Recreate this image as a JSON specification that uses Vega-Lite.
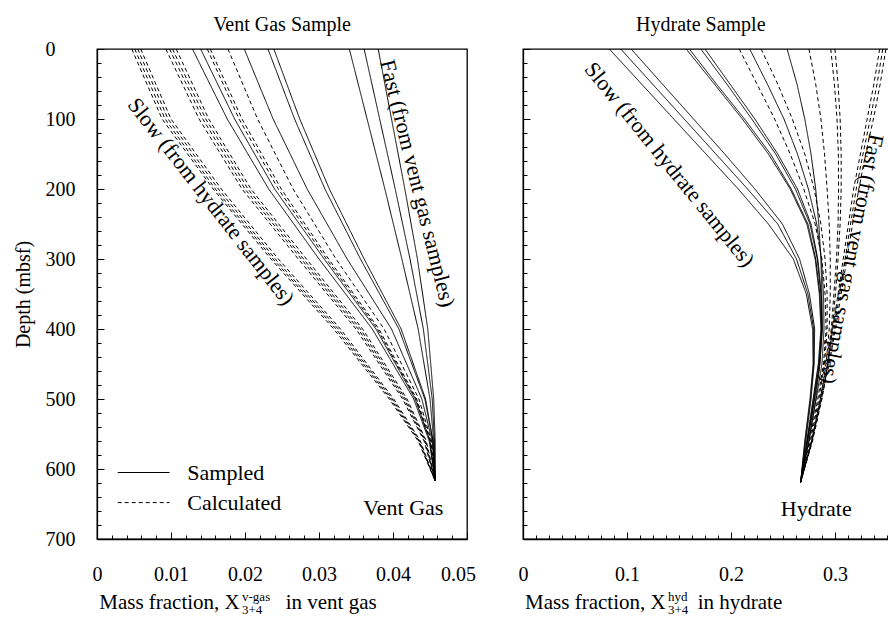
{
"$schema": "https://vega.github.io/schema/vega-lite/v6.json",
"padding": {"left": 12, "top": 14, "right": 0, "bottom": 0},
"background": "white",
"spacing": 56,
"bounds": "flush",
"config": {
  "font": "Liberation Serif",
  "view": {"stroke": "black", "strokeWidth": 1.3},
  "axis": {"domainColor": "black", "domainWidth": 1.3, "tickColor": "black", "tickWidth": 1, "labelColor": "black", "titleColor": "black", "grid": false, "labelFontSize": 20, "titleFontSize": 20, "titleFontWeight": "normal", "labelFlush": false, "labelOverlap": false}
},
"datasets": {
"vent": [
{"id":"A1","t":"Calculated","d":0,"x":0.0047},{"id":"A1","t":"Calculated","d":100,"x":0.0088},{"id":"A1","t":"Calculated","d":200,"x":0.0157},{"id":"A1","t":"Calculated","d":300,"x":0.0235},{"id":"A1","t":"Calculated","d":400,"x":0.0320},{"id":"A1","t":"Calculated","d":500,"x":0.0395},{"id":"A1","t":"Calculated","d":560,"x":0.0434},{"id":"A1","t":"Calculated","d":617,"x":0.0457},
{"id":"A2","t":"Calculated","d":0,"x":0.0051},{"id":"A2","t":"Calculated","d":100,"x":0.0092},{"id":"A2","t":"Calculated","d":200,"x":0.0160},{"id":"A2","t":"Calculated","d":300,"x":0.0238},{"id":"A2","t":"Calculated","d":400,"x":0.0323},{"id":"A2","t":"Calculated","d":500,"x":0.0397},{"id":"A2","t":"Calculated","d":560,"x":0.0435},{"id":"A2","t":"Calculated","d":617,"x":0.0457},
{"id":"A3","t":"Calculated","d":0,"x":0.0055},{"id":"A3","t":"Calculated","d":100,"x":0.0096},{"id":"A3","t":"Calculated","d":200,"x":0.0164},{"id":"A3","t":"Calculated","d":300,"x":0.0241},{"id":"A3","t":"Calculated","d":400,"x":0.0326},{"id":"A3","t":"Calculated","d":500,"x":0.0399},{"id":"A3","t":"Calculated","d":560,"x":0.0436},{"id":"A3","t":"Calculated","d":617,"x":0.0457},
{"id":"A4","t":"Calculated","d":0,"x":0.0059},{"id":"A4","t":"Calculated","d":100,"x":0.0100},{"id":"A4","t":"Calculated","d":200,"x":0.0168},{"id":"A4","t":"Calculated","d":300,"x":0.0245},{"id":"A4","t":"Calculated","d":400,"x":0.0329},{"id":"A4","t":"Calculated","d":500,"x":0.0401},{"id":"A4","t":"Calculated","d":560,"x":0.0437},{"id":"A4","t":"Calculated","d":617,"x":0.0457},
{"id":"B1","t":"Calculated","d":0,"x":0.0093},{"id":"B1","t":"Calculated","d":100,"x":0.0138},{"id":"B1","t":"Calculated","d":200,"x":0.0196},{"id":"B1","t":"Calculated","d":300,"x":0.0272},{"id":"B1","t":"Calculated","d":400,"x":0.0350},{"id":"B1","t":"Calculated","d":500,"x":0.0413},{"id":"B1","t":"Calculated","d":560,"x":0.0442},{"id":"B1","t":"Calculated","d":617,"x":0.0457},
{"id":"B2","t":"Calculated","d":0,"x":0.0098},{"id":"B2","t":"Calculated","d":100,"x":0.0143},{"id":"B2","t":"Calculated","d":200,"x":0.0200},{"id":"B2","t":"Calculated","d":300,"x":0.0276},{"id":"B2","t":"Calculated","d":400,"x":0.0353},{"id":"B2","t":"Calculated","d":500,"x":0.0415},{"id":"B2","t":"Calculated","d":560,"x":0.0443},{"id":"B2","t":"Calculated","d":617,"x":0.0457},
{"id":"B3","t":"Calculated","d":0,"x":0.0102},{"id":"B3","t":"Calculated","d":100,"x":0.0147},{"id":"B3","t":"Calculated","d":200,"x":0.0204},{"id":"B3","t":"Calculated","d":300,"x":0.0279},{"id":"B3","t":"Calculated","d":400,"x":0.0356},{"id":"B3","t":"Calculated","d":500,"x":0.0417},{"id":"B3","t":"Calculated","d":560,"x":0.0444},{"id":"B3","t":"Calculated","d":617,"x":0.0457},
{"id":"B4","t":"Calculated","d":0,"x":0.0107},{"id":"B4","t":"Calculated","d":100,"x":0.0151},{"id":"B4","t":"Calculated","d":200,"x":0.0208},{"id":"B4","t":"Calculated","d":300,"x":0.0283},{"id":"B4","t":"Calculated","d":400,"x":0.0359},{"id":"B4","t":"Calculated","d":500,"x":0.0419},{"id":"B4","t":"Calculated","d":560,"x":0.0445},{"id":"B4","t":"Calculated","d":617,"x":0.0457},
{"id":"C1","t":"Sampled","d":0,"x":0.0129},{"id":"C1","t":"Sampled","d":100,"x":0.0176},{"id":"C1","t":"Sampled","d":200,"x":0.0232},{"id":"C1","t":"Sampled","d":300,"x":0.0300},{"id":"C1","t":"Sampled","d":400,"x":0.0372},{"id":"C1","t":"Sampled","d":500,"x":0.0428},{"id":"C1","t":"Sampled","d":560,"x":0.0449},{"id":"C1","t":"Sampled","d":617,"x":0.0457},
{"id":"C2","t":"Sampled","d":0,"x":0.0140},{"id":"C2","t":"Sampled","d":100,"x":0.0186},{"id":"C2","t":"Sampled","d":200,"x":0.0240},{"id":"C2","t":"Sampled","d":300,"x":0.0307},{"id":"C2","t":"Sampled","d":400,"x":0.0377},{"id":"C2","t":"Sampled","d":500,"x":0.0430},{"id":"C2","t":"Sampled","d":560,"x":0.0450},{"id":"C2","t":"Sampled","d":617,"x":0.0457},
{"id":"C3","t":"Calculated","d":0,"x":0.0149},{"id":"C3","t":"Calculated","d":100,"x":0.0192},{"id":"C3","t":"Calculated","d":200,"x":0.0245},{"id":"C3","t":"Calculated","d":300,"x":0.0310},{"id":"C3","t":"Calculated","d":400,"x":0.0379},{"id":"C3","t":"Calculated","d":500,"x":0.0431},{"id":"C3","t":"Calculated","d":560,"x":0.0450},{"id":"C3","t":"Calculated","d":617,"x":0.0457},
{"id":"C4","t":"Calculated","d":0,"x":0.0153},{"id":"C4","t":"Calculated","d":100,"x":0.0196},{"id":"C4","t":"Calculated","d":200,"x":0.0249},{"id":"C4","t":"Calculated","d":300,"x":0.0313},{"id":"C4","t":"Calculated","d":400,"x":0.0381},{"id":"C4","t":"Calculated","d":500,"x":0.0432},{"id":"C4","t":"Calculated","d":560,"x":0.0451},{"id":"C4","t":"Calculated","d":617,"x":0.0457},
{"id":"D1","t":"Calculated","d":0,"x":0.0177},{"id":"D1","t":"Calculated","d":100,"x":0.0217},{"id":"D1","t":"Calculated","d":200,"x":0.0265},{"id":"D1","t":"Calculated","d":300,"x":0.0323},{"id":"D1","t":"Calculated","d":400,"x":0.0388},{"id":"D1","t":"Calculated","d":500,"x":0.0435},{"id":"D1","t":"Calculated","d":560,"x":0.0452},{"id":"D1","t":"Calculated","d":617,"x":0.0457},
{"id":"E1","t":"Sampled","d":0,"x":0.0199},{"id":"E1","t":"Sampled","d":100,"x":0.0238},{"id":"E1","t":"Sampled","d":200,"x":0.0284},{"id":"E1","t":"Sampled","d":300,"x":0.0338},{"id":"E1","t":"Sampled","d":400,"x":0.0398},{"id":"E1","t":"Sampled","d":500,"x":0.0439},{"id":"E1","t":"Sampled","d":560,"x":0.0453},{"id":"E1","t":"Sampled","d":617,"x":0.0457},
{"id":"F1","t":"Sampled","d":0,"x":0.0231},{"id":"F1","t":"Sampled","d":100,"x":0.0267},{"id":"F1","t":"Sampled","d":200,"x":0.0308},{"id":"F1","t":"Sampled","d":300,"x":0.0356},{"id":"F1","t":"Sampled","d":400,"x":0.0408},{"id":"F1","t":"Sampled","d":500,"x":0.0443},{"id":"F1","t":"Sampled","d":560,"x":0.0454},{"id":"F1","t":"Sampled","d":617,"x":0.0457},
{"id":"F2","t":"Sampled","d":0,"x":0.0239},{"id":"F2","t":"Sampled","d":100,"x":0.0274},{"id":"F2","t":"Sampled","d":200,"x":0.0314},{"id":"F2","t":"Sampled","d":300,"x":0.0361},{"id":"F2","t":"Sampled","d":400,"x":0.0411},{"id":"F2","t":"Sampled","d":500,"x":0.0444},{"id":"F2","t":"Sampled","d":560,"x":0.0454},{"id":"F2","t":"Sampled","d":617,"x":0.0457},
{"id":"G1","t":"Sampled","d":0,"x":0.0341},{"id":"G1","t":"Sampled","d":100,"x":0.0365},{"id":"G1","t":"Sampled","d":200,"x":0.0389},{"id":"G1","t":"Sampled","d":300,"x":0.0412},{"id":"G1","t":"Sampled","d":400,"x":0.0434},{"id":"G1","t":"Sampled","d":500,"x":0.0450},{"id":"G1","t":"Sampled","d":560,"x":0.0455},{"id":"G1","t":"Sampled","d":617,"x":0.0457},
{"id":"G2","t":"Sampled","d":0,"x":0.0361},{"id":"G2","t":"Sampled","d":100,"x":0.0382},{"id":"G2","t":"Sampled","d":200,"x":0.0403},{"id":"G2","t":"Sampled","d":300,"x":0.0423},{"id":"G2","t":"Sampled","d":400,"x":0.0441},{"id":"G2","t":"Sampled","d":500,"x":0.0453},{"id":"G2","t":"Sampled","d":560,"x":0.0456},{"id":"G2","t":"Sampled","d":617,"x":0.0457},
{"id":"G3","t":"Sampled","d":0,"x":0.0380},{"id":"G3","t":"Sampled","d":100,"x":0.0398},{"id":"G3","t":"Sampled","d":200,"x":0.0416},{"id":"G3","t":"Sampled","d":300,"x":0.0433},{"id":"G3","t":"Sampled","d":400,"x":0.0447},{"id":"G3","t":"Sampled","d":500,"x":0.0455},{"id":"G3","t":"Sampled","d":560,"x":0.0457},{"id":"G3","t":"Sampled","d":617,"x":0.0457}
],
"hyd": [
{"id":"S1","t":"Sampled","d":0,"x":0.083},{"id":"S1","t":"Sampled","d":50,"x":0.114},{"id":"S1","t":"Sampled","d":100,"x":0.145},{"id":"S1","t":"Sampled","d":150,"x":0.176},{"id":"S1","t":"Sampled","d":200,"x":0.207},{"id":"S1","t":"Sampled","d":250,"x":0.236},{"id":"S1","t":"Sampled","d":300,"x":0.260},{"id":"S1","t":"Sampled","d":350,"x":0.2725},{"id":"S1","t":"Sampled","d":400,"x":0.2785},{"id":"S1","t":"Sampled","d":450,"x":0.279},{"id":"S1","t":"Sampled","d":500,"x":0.276},{"id":"S1","t":"Sampled","d":560,"x":0.271},{"id":"S1","t":"Sampled","d":619,"x":0.267},
{"id":"S2","t":"Sampled","d":0,"x":0.094},{"id":"S2","t":"Sampled","d":50,"x":0.1245},{"id":"S2","t":"Sampled","d":100,"x":0.155},{"id":"S2","t":"Sampled","d":150,"x":0.1855},{"id":"S2","t":"Sampled","d":200,"x":0.216},{"id":"S2","t":"Sampled","d":250,"x":0.245},{"id":"S2","t":"Sampled","d":300,"x":0.263},{"id":"S2","t":"Sampled","d":350,"x":0.274},{"id":"S2","t":"Sampled","d":400,"x":0.2795},{"id":"S2","t":"Sampled","d":450,"x":0.2795},{"id":"S2","t":"Sampled","d":500,"x":0.2765},{"id":"S2","t":"Sampled","d":560,"x":0.2715},{"id":"S2","t":"Sampled","d":619,"x":0.267},
{"id":"S3","t":"Sampled","d":0,"x":0.104},{"id":"S3","t":"Sampled","d":50,"x":0.134},{"id":"S3","t":"Sampled","d":100,"x":0.164},{"id":"S3","t":"Sampled","d":150,"x":0.194},{"id":"S3","t":"Sampled","d":200,"x":0.223},{"id":"S3","t":"Sampled","d":250,"x":0.2495},{"id":"S3","t":"Sampled","d":300,"x":0.266},{"id":"S3","t":"Sampled","d":350,"x":0.2755},{"id":"S3","t":"Sampled","d":400,"x":0.2805},{"id":"S3","t":"Sampled","d":450,"x":0.280},{"id":"S3","t":"Sampled","d":500,"x":0.277},{"id":"S3","t":"Sampled","d":560,"x":0.272},{"id":"S3","t":"Sampled","d":619,"x":0.267},
{"id":"M1","t":"Sampled","d":0,"x":0.157},{"id":"M1","t":"Sampled","d":50,"x":0.184},{"id":"M1","t":"Sampled","d":100,"x":0.211},{"id":"M1","t":"Sampled","d":150,"x":0.236},{"id":"M1","t":"Sampled","d":200,"x":0.257},{"id":"M1","t":"Sampled","d":250,"x":0.273},{"id":"M1","t":"Sampled","d":300,"x":0.281},{"id":"M1","t":"Sampled","d":350,"x":0.285},{"id":"M1","t":"Sampled","d":400,"x":0.2865},{"id":"M1","t":"Sampled","d":450,"x":0.284},{"id":"M1","t":"Sampled","d":500,"x":0.279},{"id":"M1","t":"Sampled","d":560,"x":0.273},{"id":"M1","t":"Sampled","d":619,"x":0.267},
{"id":"M2","t":"Sampled","d":0,"x":0.160},{"id":"M2","t":"Sampled","d":50,"x":0.186},{"id":"M2","t":"Sampled","d":100,"x":0.213},{"id":"M2","t":"Sampled","d":150,"x":0.238},{"id":"M2","t":"Sampled","d":200,"x":0.258},{"id":"M2","t":"Sampled","d":250,"x":0.274},{"id":"M2","t":"Sampled","d":300,"x":0.2815},{"id":"M2","t":"Sampled","d":350,"x":0.2855},{"id":"M2","t":"Sampled","d":400,"x":0.287},{"id":"M2","t":"Sampled","d":450,"x":0.2845},{"id":"M2","t":"Sampled","d":500,"x":0.2795},{"id":"M2","t":"Sampled","d":560,"x":0.2733},{"id":"M2","t":"Sampled","d":619,"x":0.267},
{"id":"M3","t":"Sampled","d":0,"x":0.171},{"id":"M3","t":"Sampled","d":50,"x":0.196},{"id":"M3","t":"Sampled","d":100,"x":0.220},{"id":"M3","t":"Sampled","d":150,"x":0.243},{"id":"M3","t":"Sampled","d":200,"x":0.262},{"id":"M3","t":"Sampled","d":250,"x":0.276},{"id":"M3","t":"Sampled","d":300,"x":0.283},{"id":"M3","t":"Sampled","d":350,"x":0.2865},{"id":"M3","t":"Sampled","d":400,"x":0.2875},{"id":"M3","t":"Sampled","d":450,"x":0.285},{"id":"M3","t":"Sampled","d":500,"x":0.280},{"id":"M3","t":"Sampled","d":560,"x":0.2735},{"id":"M3","t":"Sampled","d":619,"x":0.267},
{"id":"M4","t":"Sampled","d":0,"x":0.175},{"id":"M4","t":"Sampled","d":50,"x":0.199},{"id":"M4","t":"Sampled","d":100,"x":0.223},{"id":"M4","t":"Sampled","d":150,"x":0.245},{"id":"M4","t":"Sampled","d":200,"x":0.264},{"id":"M4","t":"Sampled","d":250,"x":0.277},{"id":"M4","t":"Sampled","d":300,"x":0.2835},{"id":"M4","t":"Sampled","d":350,"x":0.287},{"id":"M4","t":"Sampled","d":400,"x":0.288},{"id":"M4","t":"Sampled","d":450,"x":0.2855},{"id":"M4","t":"Sampled","d":500,"x":0.2805},{"id":"M4","t":"Sampled","d":560,"x":0.274},{"id":"M4","t":"Sampled","d":619,"x":0.267},
{"id":"H1","t":"Calculated","d":0,"x":0.208},{"id":"H1","t":"Calculated","d":50,"x":0.225},{"id":"H1","t":"Calculated","d":100,"x":0.242},{"id":"H1","t":"Calculated","d":150,"x":0.257},{"id":"H1","t":"Calculated","d":200,"x":0.270},{"id":"H1","t":"Calculated","d":250,"x":0.281},{"id":"H1","t":"Calculated","d":300,"x":0.2875},{"id":"H1","t":"Calculated","d":350,"x":0.2905},{"id":"H1","t":"Calculated","d":400,"x":0.2915},{"id":"H1","t":"Calculated","d":450,"x":0.289},{"id":"H1","t":"Calculated","d":500,"x":0.2835},{"id":"H1","t":"Calculated","d":560,"x":0.2755},{"id":"H1","t":"Calculated","d":619,"x":0.267},
{"id":"J1","t":"Sampled","d":0,"x":0.218},{"id":"J1","t":"Sampled","d":50,"x":0.235},{"id":"J1","t":"Sampled","d":100,"x":0.251},{"id":"J1","t":"Sampled","d":150,"x":0.264},{"id":"J1","t":"Sampled","d":200,"x":0.2745},{"id":"J1","t":"Sampled","d":250,"x":0.2825},{"id":"J1","t":"Sampled","d":300,"x":0.287},{"id":"J1","t":"Sampled","d":350,"x":0.289},{"id":"J1","t":"Sampled","d":400,"x":0.2895},{"id":"J1","t":"Sampled","d":450,"x":0.2875},{"id":"J1","t":"Sampled","d":500,"x":0.282},{"id":"J1","t":"Sampled","d":560,"x":0.275},{"id":"J1","t":"Sampled","d":619,"x":0.267},
{"id":"K1","t":"Calculated","d":0,"x":0.229},{"id":"K1","t":"Calculated","d":50,"x":0.245},{"id":"K1","t":"Calculated","d":100,"x":0.259},{"id":"K1","t":"Calculated","d":150,"x":0.271},{"id":"K1","t":"Calculated","d":200,"x":0.280},{"id":"K1","t":"Calculated","d":250,"x":0.2865},{"id":"K1","t":"Calculated","d":300,"x":0.2905},{"id":"K1","t":"Calculated","d":350,"x":0.2925},{"id":"K1","t":"Calculated","d":400,"x":0.2925},{"id":"K1","t":"Calculated","d":450,"x":0.290},{"id":"K1","t":"Calculated","d":500,"x":0.2845},{"id":"K1","t":"Calculated","d":560,"x":0.2765},{"id":"K1","t":"Calculated","d":619,"x":0.267},
{"id":"L1","t":"Sampled","d":0,"x":0.254},{"id":"L1","t":"Sampled","d":50,"x":0.2635},{"id":"L1","t":"Sampled","d":100,"x":0.271},{"id":"L1","t":"Sampled","d":150,"x":0.277},{"id":"L1","t":"Sampled","d":200,"x":0.2815},{"id":"L1","t":"Sampled","d":250,"x":0.2845},{"id":"L1","t":"Sampled","d":300,"x":0.2865},{"id":"L1","t":"Sampled","d":350,"x":0.2875},{"id":"L1","t":"Sampled","d":400,"x":0.2875},{"id":"L1","t":"Sampled","d":450,"x":0.2855},{"id":"L1","t":"Sampled","d":500,"x":0.2815},{"id":"L1","t":"Sampled","d":560,"x":0.275},{"id":"L1","t":"Sampled","d":619,"x":0.267},
{"id":"N1","t":"Calculated","d":0,"x":0.275},{"id":"N1","t":"Calculated","d":50,"x":0.2815},{"id":"N1","t":"Calculated","d":100,"x":0.2865},{"id":"N1","t":"Calculated","d":150,"x":0.290},{"id":"N1","t":"Calculated","d":200,"x":0.2925},{"id":"N1","t":"Calculated","d":250,"x":0.2945},{"id":"N1","t":"Calculated","d":300,"x":0.2955},{"id":"N1","t":"Calculated","d":350,"x":0.2955},{"id":"N1","t":"Calculated","d":400,"x":0.2945},{"id":"N1","t":"Calculated","d":450,"x":0.2915},{"id":"N1","t":"Calculated","d":500,"x":0.286},{"id":"N1","t":"Calculated","d":560,"x":0.2775},{"id":"N1","t":"Calculated","d":619,"x":0.267},
{"id":"P1","t":"Calculated","d":0,"x":0.296},{"id":"P1","t":"Calculated","d":50,"x":0.2995},{"id":"P1","t":"Calculated","d":100,"x":0.302},{"id":"P1","t":"Calculated","d":150,"x":0.3033},{"id":"P1","t":"Calculated","d":200,"x":0.3035},{"id":"P1","t":"Calculated","d":250,"x":0.303},{"id":"P1","t":"Calculated","d":300,"x":0.3015},{"id":"P1","t":"Calculated","d":350,"x":0.299},{"id":"P1","t":"Calculated","d":400,"x":0.2965},{"id":"P1","t":"Calculated","d":450,"x":0.293},{"id":"P1","t":"Calculated","d":500,"x":0.287},{"id":"P1","t":"Calculated","d":560,"x":0.278},{"id":"P1","t":"Calculated","d":619,"x":0.267},
{"id":"P2","t":"Calculated","d":0,"x":0.300},{"id":"P2","t":"Calculated","d":50,"x":0.303},{"id":"P2","t":"Calculated","d":100,"x":0.305},{"id":"P2","t":"Calculated","d":150,"x":0.306},{"id":"P2","t":"Calculated","d":200,"x":0.306},{"id":"P2","t":"Calculated","d":250,"x":0.305},{"id":"P2","t":"Calculated","d":300,"x":0.303},{"id":"P2","t":"Calculated","d":350,"x":0.3005},{"id":"P2","t":"Calculated","d":400,"x":0.2975},{"id":"P2","t":"Calculated","d":450,"x":0.2935},{"id":"P2","t":"Calculated","d":500,"x":0.2875},{"id":"P2","t":"Calculated","d":560,"x":0.2785},{"id":"P2","t":"Calculated","d":619,"x":0.267},
{"id":"Q1","t":"Calculated","d":0,"x":0.343},{"id":"Q1","t":"Calculated","d":50,"x":0.3375},{"id":"Q1","t":"Calculated","d":100,"x":0.331},{"id":"Q1","t":"Calculated","d":150,"x":0.3245},{"id":"Q1","t":"Calculated","d":200,"x":0.318},{"id":"Q1","t":"Calculated","d":250,"x":0.313},{"id":"Q1","t":"Calculated","d":300,"x":0.308},{"id":"Q1","t":"Calculated","d":350,"x":0.303},{"id":"Q1","t":"Calculated","d":400,"x":0.298},{"id":"Q1","t":"Calculated","d":450,"x":0.2925},{"id":"Q1","t":"Calculated","d":500,"x":0.2855},{"id":"Q1","t":"Calculated","d":560,"x":0.2775},{"id":"Q1","t":"Calculated","d":619,"x":0.267},
{"id":"Q2","t":"Calculated","d":0,"x":0.346},{"id":"Q2","t":"Calculated","d":50,"x":0.3405},{"id":"Q2","t":"Calculated","d":100,"x":0.334},{"id":"Q2","t":"Calculated","d":150,"x":0.327},{"id":"Q2","t":"Calculated","d":200,"x":0.3205},{"id":"Q2","t":"Calculated","d":250,"x":0.315},{"id":"Q2","t":"Calculated","d":300,"x":0.3098},{"id":"Q2","t":"Calculated","d":350,"x":0.3045},{"id":"Q2","t":"Calculated","d":400,"x":0.2993},{"id":"Q2","t":"Calculated","d":450,"x":0.2935},{"id":"Q2","t":"Calculated","d":500,"x":0.2862},{"id":"Q2","t":"Calculated","d":560,"x":0.2778},{"id":"Q2","t":"Calculated","d":619,"x":0.267},
{"id":"Q3","t":"Calculated","d":0,"x":0.349},{"id":"Q3","t":"Calculated","d":50,"x":0.3435},{"id":"Q3","t":"Calculated","d":100,"x":0.337},{"id":"Q3","t":"Calculated","d":150,"x":0.3295},{"id":"Q3","t":"Calculated","d":200,"x":0.323},{"id":"Q3","t":"Calculated","d":250,"x":0.317},{"id":"Q3","t":"Calculated","d":300,"x":0.3115},{"id":"Q3","t":"Calculated","d":350,"x":0.306},{"id":"Q3","t":"Calculated","d":400,"x":0.3005},{"id":"Q3","t":"Calculated","d":450,"x":0.2945},{"id":"Q3","t":"Calculated","d":500,"x":0.287},{"id":"Q3","t":"Calculated","d":560,"x":0.278},{"id":"Q3","t":"Calculated","d":619,"x":0.267}
]
},
"hconcat": [
{
  "width": 370, "height": 490,
  "resolve": {"axis": {"x": "independent", "y": "independent"}},
  "layer": [
    {"data": {"name": "vent"}, "mark": {"type": "line", "strokeWidth": 1, "color": "black"},
     "encoding": {
       "x": {"field": "x", "type": "quantitative", "scale": {"domain": [0, 0.05], "nice": false, "zero": false},
             "axis": {"values": [0, 0.01, 0.02, 0.03, 0.04, 0.05], "tickSize": -7, "labelPadding": 32, "labelExpr": "datum.value == 0 ? '0' : format(datum.value, '.2f')", "labelOffset": {"condition": {"test": "datum.value == 0.05", "value": -9}, "value": 0}, "title": null}},
       "y": {"field": "d", "type": "quantitative", "scale": {"domain": [0, 700], "reverse": true, "nice": false, "zero": false},
             "axis": {"values": [0, 100, 200, 300, 400, 500, 600, 700], "tickSize": -7, "labelPadding": 59, "labelAlign": "left", "labelBaseline": "middle", "format": "d", "title": "Depth (mbsf)", "titlePadding": 12}},
       "detail": {"field": "id"},
       "order": {"field": "d"},
       "strokeDash": {"field": "t", "type": "nominal", "scale": {"domain": ["Sampled", "Calculated"], "range": [[1, 0], [4, 3]]}, "legend": null}
     }},
    {"data": {"name": "vent"}, "mark": {"type": "point", "opacity": 0, "size": 0},
     "encoding": {
       "x": {"field": "x", "type": "quantitative", "axis": {"orient": "bottom", "values": [0.002,0.004,0.006,0.008,0.012,0.014,0.016,0.018,0.022,0.024,0.026,0.028,0.032,0.034,0.036,0.038,0.042,0.044,0.046,0.048], "tickSize": -4, "labels": false, "domain": false, "title": null}},
       "y": {"field": "d", "type": "quantitative", "axis": {"orient": "left", "values": [20,40,60,80,120,140,160,180,220,240,260,280,320,340,360,380,420,440,460,480,520,540,560,580,620,640,660,680], "tickSize": -4, "labels": false, "domain": false, "title": null}}
     }},
    {"data": {"values": [{}]}, "mark": {"type": "text", "fontSize": 20, "align": "center", "baseline": "middle", "color": "black"},
     "encoding": {"x": {"datum": 0.025, "type": "quantitative", "axis": null}, "y": {"datum": -34, "type": "quantitative", "axis": null}, "text": {"value": "Vent Gas Sample"}}},
    {"data": {"values": [{}]}, "mark": {"type": "text", "angle": 52, "fontSize": 22, "align": "center", "baseline": "middle", "color": "black"},
     "encoding": {"x": {"datum": 0.0154, "type": "quantitative", "axis": null}, "y": {"datum": 218, "type": "quantitative", "axis": null}, "text": {"value": "Slow (from hydrate samples)"}}},
    {"data": {"values": [{}]}, "mark": {"type": "text", "angle": 76, "fontSize": 22, "align": "center", "baseline": "middle", "color": "black"},
     "encoding": {"x": {"datum": 0.0433, "type": "quantitative", "axis": null}, "y": {"datum": 192, "type": "quantitative", "axis": null}, "text": {"value": "Fast (from vent gas samples)"}}},
    {"data": {"values": [{}]}, "mark": {"type": "text", "fontSize": 22, "align": "center", "baseline": "middle", "color": "black"},
     "encoding": {"x": {"datum": 0.0414, "type": "quantitative", "axis": null}, "y": {"datum": 655, "type": "quantitative", "axis": null}, "text": {"value": "Vent Gas"}}},
    {"data": {"values": [{}]}, "mark": {"type": "rule", "color": "black", "strokeWidth": 1},
     "encoding": {"x": {"datum": 0.0028, "type": "quantitative", "axis": null}, "x2": {"datum": 0.0098}, "y": {"datum": 605, "type": "quantitative", "axis": null}}},
    {"data": {"values": [{}]}, "mark": {"type": "rule", "color": "black", "strokeWidth": 1, "strokeDash": [4, 3]},
     "encoding": {"x": {"datum": 0.0028, "type": "quantitative", "axis": null}, "x2": {"datum": 0.0098}, "y": {"datum": 648, "type": "quantitative", "axis": null}}},
    {"data": {"values": [{}]}, "mark": {"type": "text", "fontSize": 22, "align": "left", "baseline": "middle", "color": "black"},
     "encoding": {"x": {"datum": 0.0122, "type": "quantitative", "axis": null}, "y": {"datum": 605, "type": "quantitative", "axis": null}, "text": {"value": "Sampled"}}},
    {"data": {"values": [{}]}, "mark": {"type": "text", "fontSize": 22, "align": "left", "baseline": "middle", "color": "black"},
     "encoding": {"x": {"datum": 0.0122, "type": "quantitative", "axis": null}, "y": {"datum": 648, "type": "quantitative", "axis": null}, "text": {"value": "Calculated"}}},
    {"data": {"values": [{}]}, "mark": {"type": "text", "fontSize": 21, "align": "left", "baseline": "alphabetic", "color": "black"},
     "encoding": {"x": {"datum": 0.0003, "type": "quantitative", "axis": null}, "y": {"datum": 800, "type": "quantitative", "axis": null}, "text": {"value": "Mass fraction, X"}}},
    {"data": {"values": [{}]}, "mark": {"type": "text", "fontSize": 13, "align": "left", "baseline": "alphabetic", "color": "black"},
     "encoding": {"x": {"datum": 0.0196, "type": "quantitative", "axis": null}, "y": {"datum": 788, "type": "quantitative", "axis": null}, "text": {"value": "v-gas"}}},
    {"data": {"values": [{}]}, "mark": {"type": "text", "fontSize": 13, "align": "left", "baseline": "alphabetic", "color": "black"},
     "encoding": {"x": {"datum": 0.0196, "type": "quantitative", "axis": null}, "y": {"datum": 807, "type": "quantitative", "axis": null}, "text": {"value": "3+4"}}},
    {"data": {"values": [{}]}, "mark": {"type": "text", "fontSize": 21, "align": "left", "baseline": "alphabetic", "color": "black"},
     "encoding": {"x": {"datum": 0.0255, "type": "quantitative", "axis": null}, "y": {"datum": 800, "type": "quantitative", "axis": null}, "text": {"value": "in vent gas"}}}
  ]
},
{
  "width": 366, "height": 490,
  "resolve": {"axis": {"x": "independent", "y": "independent"}},
  "layer": [
    {"data": {"name": "hyd"}, "mark": {"type": "line", "strokeWidth": 1, "color": "black"},
     "encoding": {
       "x": {"field": "x", "type": "quantitative", "scale": {"domain": [0, 0.352], "nice": false, "zero": false},
             "axis": {"values": [0, 0.1, 0.2, 0.3], "tickSize": -7, "labelPadding": 32, "labelExpr": "datum.value == 0 ? '0' : format(datum.value, '.1f')", "title": null}},
       "y": {"field": "d", "type": "quantitative", "scale": {"domain": [0, 700], "reverse": true, "nice": false, "zero": false},
             "axis": {"values": [0, 100, 200, 300, 400, 500, 600, 700], "tickSize": -7, "labels": false, "title": null}},
       "detail": {"field": "id"},
       "order": {"field": "d"},
       "strokeDash": {"field": "t", "type": "nominal", "scale": {"domain": ["Sampled", "Calculated"], "range": [[1, 0], [4, 3]]}, "legend": null}
     }},
    {"data": {"name": "hyd"}, "mark": {"type": "point", "opacity": 0, "size": 0},
     "encoding": {
       "x": {"field": "x", "type": "quantitative", "axis": {"orient": "bottom", "values": [0.0125,0.025,0.0375,0.05,0.0625,0.075,0.0875,0.1125,0.125,0.1375,0.15,0.1625,0.175,0.1875,0.2125,0.225,0.2375,0.25,0.2625,0.275,0.2875,0.3125,0.325,0.3375,0.35], "tickSize": -4, "labels": false, "domain": false, "title": null}},
       "y": {"field": "d", "type": "quantitative", "axis": {"orient": "left", "values": [20,40,60,80,120,140,160,180,220,240,260,280,320,340,360,380,420,440,460,480,520,540,560,580,620,640,660,680], "tickSize": -4, "labels": false, "domain": false, "title": null}}
     }},
    {"data": {"values": [{}]}, "mark": {"type": "text", "fontSize": 20, "align": "center", "baseline": "middle", "color": "black"},
     "encoding": {"x": {"datum": 0.171, "type": "quantitative", "axis": null}, "y": {"datum": -34, "type": "quantitative", "axis": null}, "text": {"value": "Hydrate Sample"}}},
    {"data": {"values": [{}]}, "mark": {"type": "text", "angle": 51, "fontSize": 22, "align": "center", "baseline": "middle", "color": "black"},
     "encoding": {"x": {"datum": 0.141, "type": "quantitative", "axis": null}, "y": {"datum": 165, "type": "quantitative", "axis": null}, "text": {"value": "Slow (from hydrate samples)"}}},
    {"data": {"values": [{}]}, "mark": {"type": "text", "angle": 101, "fontSize": 22, "align": "center", "baseline": "middle", "color": "black"},
     "encoding": {"x": {"datum": 0.3165, "type": "quantitative", "axis": null}, "y": {"datum": 300, "type": "quantitative", "axis": null}, "text": {"value": "Fast (from vent gas samples)"}}},
    {"data": {"values": [{}]}, "mark": {"type": "text", "fontSize": 22, "align": "center", "baseline": "middle", "color": "black"},
     "encoding": {"x": {"datum": 0.282, "type": "quantitative", "axis": null}, "y": {"datum": 657, "type": "quantitative", "axis": null}, "text": {"value": "Hydrate"}}},
    {"data": {"values": [{}]}, "mark": {"type": "text", "fontSize": 21, "align": "left", "baseline": "alphabetic", "color": "black"},
     "encoding": {"x": {"datum": 0.002, "type": "quantitative", "axis": null}, "y": {"datum": 800, "type": "quantitative", "axis": null}, "text": {"value": "Mass fraction, X"}}},
    {"data": {"values": [{}]}, "mark": {"type": "text", "fontSize": 13, "align": "left", "baseline": "alphabetic", "color": "black"},
     "encoding": {"x": {"datum": 0.1394, "type": "quantitative", "axis": null}, "y": {"datum": 788, "type": "quantitative", "axis": null}, "text": {"value": "hyd"}}},
    {"data": {"values": [{}]}, "mark": {"type": "text", "fontSize": 13, "align": "left", "baseline": "alphabetic", "color": "black"},
     "encoding": {"x": {"datum": 0.1394, "type": "quantitative", "axis": null}, "y": {"datum": 807, "type": "quantitative", "axis": null}, "text": {"value": "3+4"}}},
    {"data": {"values": [{}]}, "mark": {"type": "text", "fontSize": 21, "align": "left", "baseline": "alphabetic", "color": "black"},
     "encoding": {"x": {"datum": 0.168, "type": "quantitative", "axis": null}, "y": {"datum": 800, "type": "quantitative", "axis": null}, "text": {"value": "in hydrate"}}}
  ]
}
]
}
